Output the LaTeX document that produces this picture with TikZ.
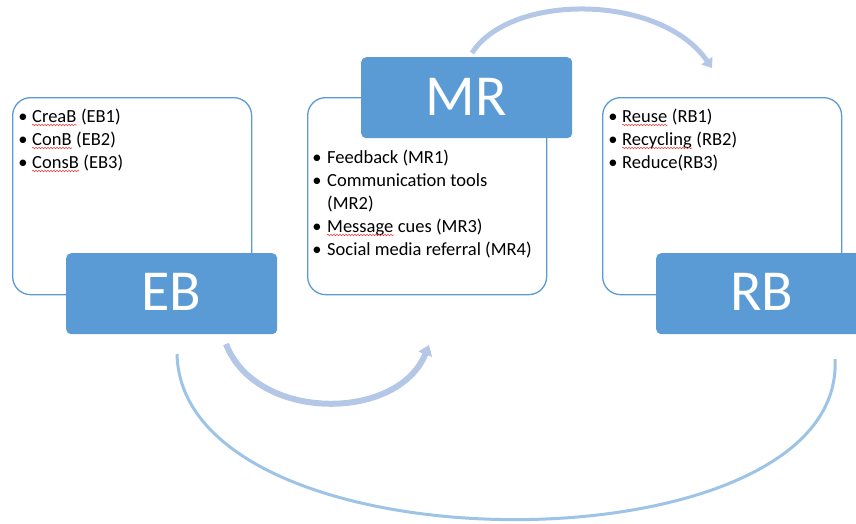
\documentclass[tikz,border=0pt]{standalone}
\usepackage{fontspec}
\setmainfont{Carlito}
\usetikzlibrary{arrows.meta,decorations.pathmorphing}
\definecolor{accent}{HTML}{5B9BD5}
\definecolor{flowA}{HTML}{B4C7E7}
\definecolor{loopC}{HTML}{9DC3E6}
\definecolor{spell}{HTML}{E8413C}
\begin{document}
\begin{tikzpicture}[x=1pt,y=-1pt,
  panel/.style={draw=accent,line width=1.3pt,fill=white,rounded corners=18pt,
    anchor=north west,minimum width=239pt,minimum height=197pt,inner sep=0pt},
  badge/.style={fill=accent,rounded corners=5pt,anchor=north west,
    minimum width=211pt,minimum height=81pt,inner sep=0pt},
  biglabel/.style={text=white,font=\fontsize{58}{60}\selectfont,anchor=base,inner sep=0pt},
  item/.style={font=\fontsize{18.5}{23}\selectfont,anchor=base west,inner sep=0pt},
  dot/.style={font=\fontsize{18.5}{23}\selectfont,anchor=base,inner sep=0pt},
  typo/.style={draw=spell,line width=0.6pt,decorate,
    decoration={snake,amplitude=0.7pt,segment length=3pt}},
  flow/.style={draw=flowA,line width=6pt,-{Triangle[length=10pt,width=14pt]}},
  loop/.style={draw=loopC,line width=3pt}
]
\useasboundingbox (0,0) rectangle (856,523);
\clip (0,0) rectangle (856,523);

% connector end points
\coordinate (ebout) at (226,344);
\coordinate (mrin)  at (429,345);
\coordinate (mrout) at (472,53);
\coordinate (rbin)  at (712,68);
\coordinate (loopL) at (177,354);
\coordinate (loopR) at (835,359);

% curved connectors
\draw[flow] (ebout) .. controls (256,422) and (398,422) .. (mrin);
\draw[flow,line width=5pt,-{Triangle[length=9pt,width=13pt]}] (mrout) .. controls (510,-7) and (660,-7) .. (rbin);
\draw[loop] (loopL) .. controls (182,574) and (846,574) .. (loopR);

% white panels
\node[panel] (ebpanel) at (12,97) {};
\node[panel] (mrpanel) at (307,97) {};
\node[panel] (rbpanel) at (602,97) {};

% blue headers
\node[badge] (eb) at (66,253) {};
\node[badge] (mr) at (361,57) {};
\node[badge] (rb) at (656,253) {};
\node[biglabel] (ebt) at (171.5,310) {EB};
\node[biglabel] (mrt) at (466,115) {MR};
\node[biglabel] (rbt) at (762,310) {RB};

% EB items
\node[dot] (ebd1) at (23,122) {•};
\node[dot] (ebd2) at (23,145) {•};
\node[dot] (ebd3) at (23,168) {•};
\node[item] (ebw1) at (32,122) {CreaB};
\node[item] (ebx1) at ([xshift=4.2pt]ebw1.base east) {(EB1)};
\node[item] (ebw2) at (32,145) {ConB};
\node[item] (ebx2) at ([xshift=4.2pt]ebw2.base east) {(EB2)};
\node[item] (ebw3) at (32,168) {ConsB};
\node[item] (ebx3) at ([xshift=4.2pt]ebw3.base east) {(EB3)};

% MR items
\node[dot] (mrd1) at (317,163) {•};
\node[dot] (mrd2) at (317,186) {•};
\node[dot] (mrd3) at (317,232) {•};
\node[dot] (mrd4) at (317,255) {•};
\node[item] (mrx1) at (327,163) {Feedback (MR1)};
\node[item] (mrx2) at (327,186) {Communication tools};
\node[item] (mrx2b) at (327,209) {(MR2)};
\node[item] (mrw3) at (327,232) {Message};
\node[item] (mrx3) at ([xshift=4.2pt]mrw3.base east) {cues (MR3)};
\node[item] (mrx4) at (327,255) {Social media referral (MR4)};

% RB items
\node[dot] (rbd1) at (613,122) {•};
\node[dot] (rbd2) at (613,145) {•};
\node[dot] (rbd3) at (613,168) {•};
\node[item] (rbw1) at (622,122) {Reuse};
\node[item] (rbx1) at ([xshift=4.2pt]rbw1.base east) {(RB1)};
\node[item] (rbw2) at (622,145) {Recycling};
\node[item] (rbx2) at ([xshift=4.2pt]rbw2.base east) {(RB2)};
\node[item] (rbx3) at (622,168) {Reduce(RB3)};

% spelling marks under flagged words
\foreach \w in {ebw1,ebw2,ebw3,mrw3,rbw1,rbw2}
  \path[typo] ([yshift=-3pt]\w.base west) -- ([yshift=-3pt]\w.base east);
\end{tikzpicture}
\end{document}
